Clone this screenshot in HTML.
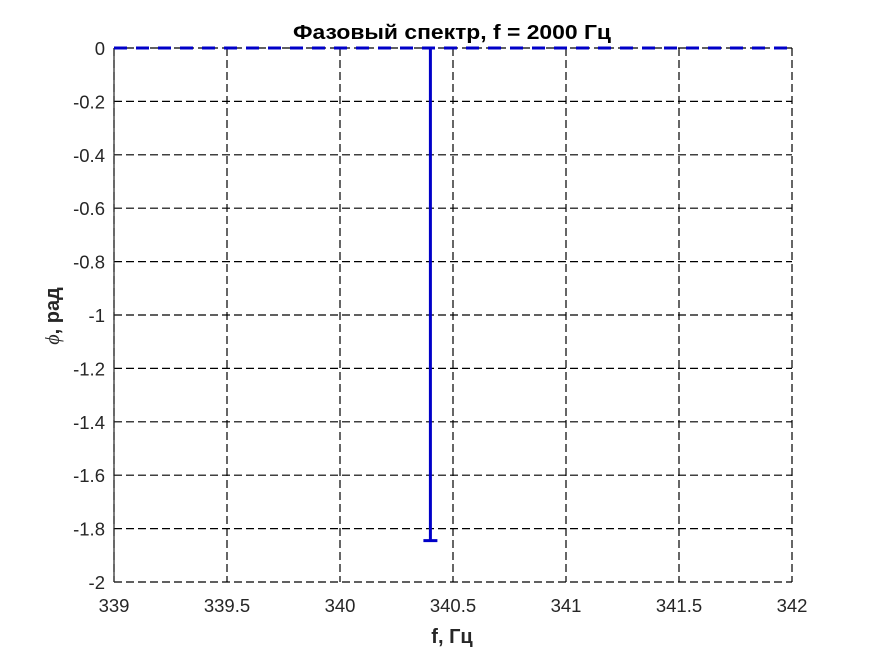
<!DOCTYPE html>
<html><head><meta charset="utf-8"><style>body{margin:0;background:#fff}svg{display:block}</style></head>
<body>
<svg id="c" width="875" height="656" xmlns="http://www.w3.org/2000/svg" font-family="Liberation Sans, DejaVu Sans, sans-serif">
<rect width="875" height="656" fill="#fff"/>
<g id="grid"></g><g id="axes"></g><g id="marks"></g>
<text x="452" y="39" text-anchor="middle" font-size="20" font-weight="bold" fill="#000" textLength="318" lengthAdjust="spacingAndGlyphs">Фазовый спектр, f = 2000 Гц</text>
<text x="452" y="643" text-anchor="middle" font-size="20" font-weight="bold" fill="#262626">f, Гц</text>
<text transform="translate(59,316) rotate(-90)" text-anchor="middle" font-size="20" font-weight="bold" fill="#262626"><tspan font-style="italic" font-weight="normal" font-family="Liberation Serif, serif">ϕ</tspan>, рад</text>
</svg>
<script>
const xTicks=[339,339.5,340,340.5,341,341.5,342];
const xTickLabels=['339','339.5','340','340.5','341','341.5','342'];
const yTicks=[0,-0.2,-0.4,-0.6,-0.8,-1,-1.2,-1.4,-1.6,-1.8,-2];
const yTickLabels=['0','-0.2','-0.4','-0.6','-0.8','-1','-1.2','-1.4','-1.6','-1.8','-2'];
const stemFreqs=[340.4];
const stemPhases=[-1.845];
const baseline=0;
const L=114,R=792,T=48,B=582;
const X=v=>L+(v-339)/(342-339)*(R-L);
const Y=v=>T+(0-v)/(0-(-2))*(B-T);
const ns='http://www.w3.org/2000/svg';
function mk(p,t,a){const e=document.createElementNS(ns,t);for(const k in a)e.setAttribute(k,a[k]);p.appendChild(e);return e;}
const g=document.getElementById('grid'),ax=document.getElementById('axes'),m=document.getElementById('marks');
xTicks.forEach((v,i)=>{
 const l=mk(g,'line',{x1:X(v),x2:X(v),y1:T,y2:B,stroke:'#000','stroke-width':1.2,'stroke-dasharray':'8,4'});
 
 
 const t=mk(ax,'text',{x:X(v),y:B+30,'text-anchor':'middle','font-size':18.5,fill:'#262626'});t.textContent=xTickLabels[i];
 
 
});
yTicks.forEach((v,i)=>{
 const l=mk(g,'line',{x1:L,x2:R,y1:Y(v),y2:Y(v),stroke:'#000','stroke-width':1.2,'stroke-dasharray':'8,4'});
 
 
 const t=mk(ax,'text',{x:L-9,y:Y(v)+7,'text-anchor':'end','font-size':18.5,fill:'#262626'});t.textContent=yTickLabels[i];
 
 
});
const ya=mk(ax,'line',{x1:L,x2:L,y1:T,y2:B,stroke:'#262626','stroke-width':1.2});


const bl=mk(m,'line',{x1:L,x2:R,y1:Y(baseline),y2:Y(baseline),stroke:'#0000c8','stroke-width':3,'stroke-dasharray':'13,9'});


stemFreqs.forEach((f,i)=>{
 const s=mk(m,'line',{x1:X(f),x2:X(f),y1:Y(baseline),y2:Y(stemPhases[i]),stroke:'#0000c8','stroke-width':3});
 
 
 const c=mk(m,'line',{x1:X(f)-7,x2:X(f)+7,y1:Y(stemPhases[i]),y2:Y(stemPhases[i]),stroke:'#0000c8','stroke-width':3});
 
 
});
</script>
</body></html>
